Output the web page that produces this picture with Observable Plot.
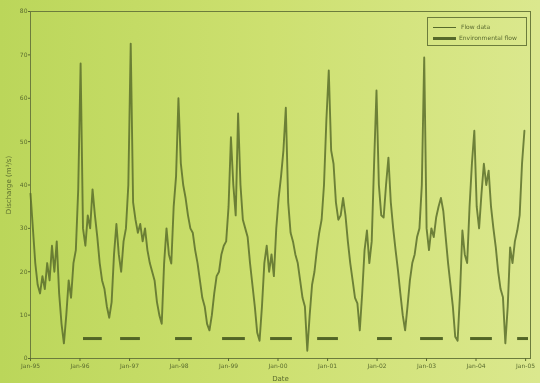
<!DOCTYPE html>
<html><head><meta charset="utf-8">
<script src="https://cdn.jsdelivr.net/npm/d3@7"></script>
<script src="https://cdn.jsdelivr.net/npm/@observablehq/plot@0.6"></script>
<style>
html,body{margin:0;padding:0;}
body{width:540px;height:383px;overflow:hidden;background:linear-gradient(90deg,#bbd65a 0%,#cde070 50%,#dbe88e 100%);font-family:"DejaVu Sans",sans-serif;}
#wrap{position:relative;width:540px;height:383px;}
#wrap svg{position:absolute;left:0;top:0;filter:blur(0.5px);}
#legend{position:absolute;left:427px;top:17px;width:100px;height:29px;border:1px solid #6c7c3c;box-sizing:border-box;font-size:6px;color:#5a6a30;filter:blur(0.4px);}
#legend .s{position:absolute;left:5px;width:23px;background:#56692b;}
#legend .t{position:absolute;white-space:nowrap;line-height:6px;}
</style></head>
<body><div id="wrap">
<div id="legend">
  <div class="s" style="top:9px;height:1px"></div><div class="t" style="left:33px;top:6px">Flow data</div>
  <div class="s" style="top:19px;height:3px"></div><div class="t" style="left:31px;top:17px">Environmental flow</div>
</div>
</div>
<script>
// Series: one reading every ~17.6 days (0.0482 yr) starting Jan 1995
const startYear = 1995;
const stepYears = 0.0482;
const flow = [
 38,30,22,17,15,19,16,22,18,26,20,27,15,8,3.5,10,18,14,22,25,
 39,68,30,26,33,30,39,33,28,22,18,16,12,9.4,13,24,31,24,20,27,
 30,40,72.6,36,32,29,31,27,30,25,22,20,18,13,10,8,22,30,24,21.9,
 35,42,60,45,40,37,33,30,29,25,22,18,14,12,8,6.5,10,15,19,20,
 24,26,27,35,51,40,33,56.5,40,32,30,28,22,17,12,6,4.1,12,22,26,
 20,24,19,30,37,42,48,57.8,36,29,27,24,22,18,14,12,1.8,10,17,20,
 25,29,32,40,55,66.4,48,44.9,36,32,33,37,33,27,22,18,14,12.7,6.5,15,
 25,29.5,22,27,45,61.8,40,33,32.5,40,46.3,36,30,25,20.3,15,10,6.5,12,18,
 22,24,28,30,40,69.4,30,25,30,28,32.5,35,37,34,28,22,17,12,5,4.1,
 15,29.5,24,22,35,45,52.5,35,30,38,44.9,40,43.3,35,30,25.6,20,16,14.1,3.5,
 12,25.6,22,27,29.5,33,45,52.5
];
// Threshold segments (decimal years) and level
const dashStart = [1996.07,1996.82,1997.93,1998.88,1999.85,2000.80,2002.01,2002.88,2003.89,2004.84];
const dashEnd   = [1996.45,1997.22,1998.27,1999.34,2000.29,2001.22,2002.31,2003.34,2004.33,2005.06];
const threshold = 4.6;
const yTicks = [0,10,20,30,40,50,60,70,80];

const toDate = t => new Date(Date.UTC(1995,0,1) + (t-1995)*365.25*864e5);
const series = flow.map((v,i) => ({date: toDate(startYear + i*stepYears), flow: v}));
const dashes = dashStart.map((s,i) => ({start: toDate(s), end: toDate(dashEnd[i]), value: threshold}));

const ink = "#5a6b2e";
const chart = Plot.plot({
  width: 540, height: 383,
  marginLeft: 30, marginRight: 10, marginTop: 11, marginBottom: 25,
  style: {background: "transparent", color: ink, fontFamily: "DejaVu Sans, sans-serif"},
  x: {type: "utc", domain: [toDate(1995), toDate(2005.1)]},
  y: {domain: [0, 80]},
  marks: [
    Plot.frame({stroke: "#6c7c3c", strokeWidth: 1}),
    Plot.axisX({ticks: d3.utcYear.every(1), tickFormat: d3.utcFormat("%b-%y"), tickSize: 3, tickPadding: 2, fontSize: 6,
      label: "Date", labelAnchor: "center", labelArrow: false, labelOffset: 22}),
    Plot.axisY({ticks: yTicks, tickSize: 2, tickPadding: 1, fontSize: 6,
      label: "Discharge (m³/s)", labelAnchor: "center", labelArrow: false, labelOffset: 24}),
    Plot.lineY(series, {x: "date", y: "flow", stroke: "#5b6e2b", strokeWidth: 1.9, strokeOpacity: 0.85}),
    Plot.ruleY(dashes, {y: "value", x1: "start", x2: "end", stroke: "#526526", strokeWidth: 3})
  ]
});
chart.querySelectorAll("g[aria-label='x-axis label'] text, g[aria-label='y-axis label'] text").forEach(t => t.style.fontSize = "7px");
document.getElementById("wrap").prepend(chart);
</script>
</body></html>
